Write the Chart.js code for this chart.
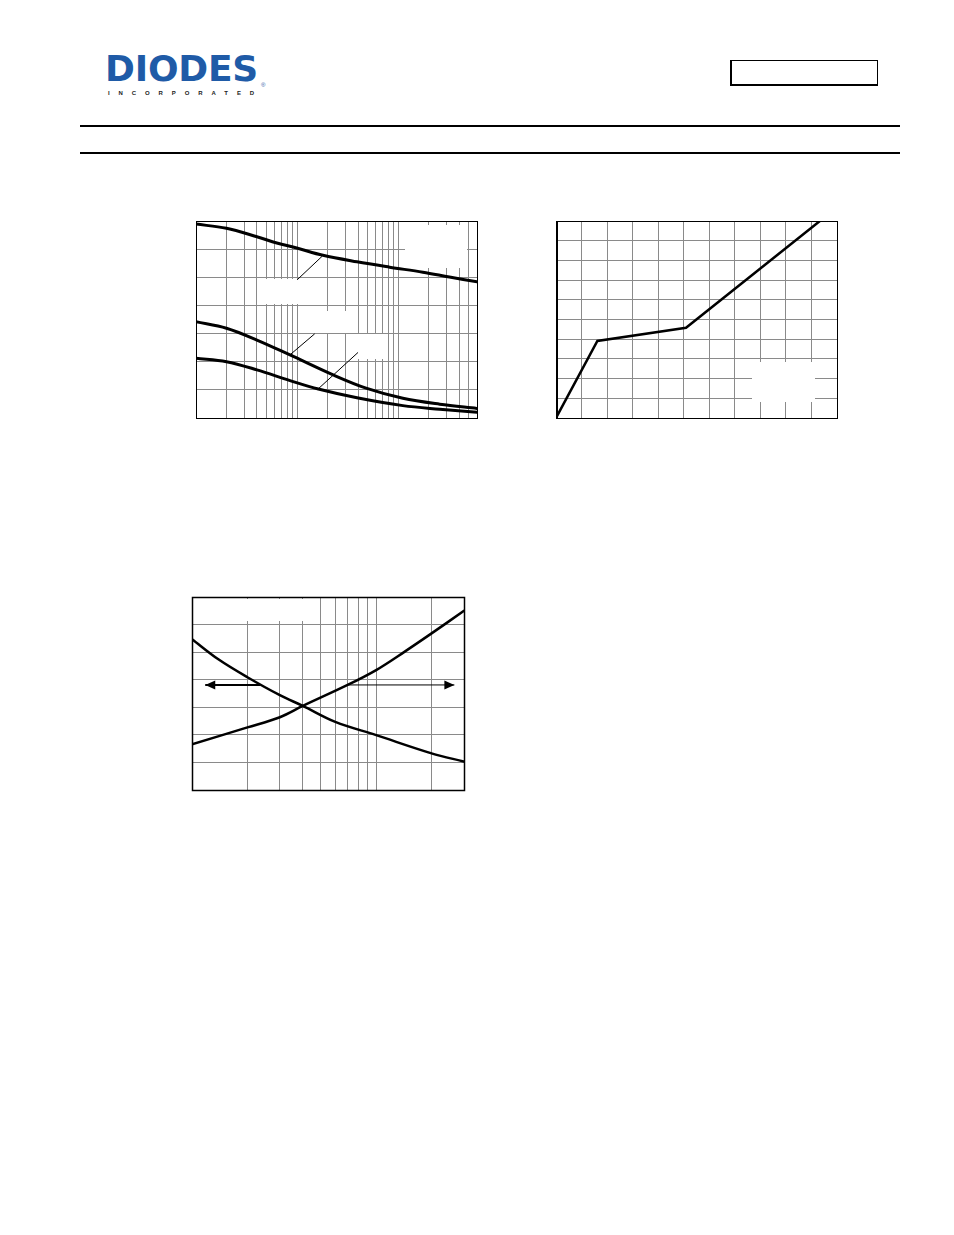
<!DOCTYPE html>
<html><head><meta charset="utf-8">
<script src="https://cdn.jsdelivr.net/npm/chart.js@4/dist/chart.umd.min.js"></script>
<style>
html,body{margin:0;padding:0;background:#fff;}
body{width:954px;height:1235px;overflow:hidden;position:relative;font-family:"Liberation Sans",Arial,sans-serif;}
.abs{position:absolute;}
#logo{left:105px;top:53.5px;font-family:"DejaVu Sans",sans-serif;font-size:36px;line-height:30px;font-weight:bold;color:#1f5ba7;letter-spacing:-0.2px;white-space:nowrap;}
#inc{left:108px;top:90px;font-size:6px;line-height:6px;font-weight:bold;color:#222;letter-spacing:8.9px;white-space:nowrap;}
#reg{left:261px;top:82px;font-size:6px;line-height:6px;color:#1f5ba7;}
#pn{left:730px;top:60px;width:145px;height:23px;border:1px solid #000;border-left-width:2px;border-bottom-width:2px;}
.rule{left:80px;width:820px;height:2px;background:#000;}
canvas{position:absolute;}
</style></head>
<body>
<div id="logo" class="abs">DIODES</div>
<div id="inc" class="abs">INCORPORATED</div>
<div id="reg" class="abs">®</div>
<div id="pn" class="abs"></div>
<div class="abs rule" style="top:125px"></div>
<div class="abs rule" style="top:152px"></div>
<canvas id="c1" width="287" height="203" style="left:193px;top:218px"></canvas>
<canvas id="c2" width="287" height="203" style="left:553px;top:218px"></canvas>
<canvas id="c3" width="278" height="199" style="left:189px;top:594px"></canvas>
<script>
// ---------- Chart 1 (log x, 7 y divisions) ----------
const c1GridX = [1,2,3,4,5,6,7,8,9,10,20,30,40,50,60,70,80,90,100,200,300,400,500,600];
const c1TopX = [1, 2.0, 4.0, 6.3, 9.9, 18, 39, 82, 175, 320, 600];
const c1TopY = [6.89, 6.74, 6.44, 6.22, 6.04, 5.78, 5.55, 5.36, 5.18, 5.01, 4.84];
const c1MidX = [1, 2.0, 4.0, 8.5, 22.7, 48, 111, 257, 600];
const c1MidY = [3.42, 3.19, 2.77, 2.24, 1.53, 1.06, 0.70, 0.49, 0.34];
const c1BotX = [1, 2.0, 4.0, 8.5, 16.2, 39, 111, 257, 600];
const c1BotY = [2.12, 2.00, 1.71, 1.33, 1.03, 0.72, 0.44, 0.31, 0.20];
const c1Lead1X = [10.0, 17.7], c1Lead1Y = [4.91, 5.75];
const c1Lead2X = [8.47, 14.9], c1Lead2Y = [2.24, 2.99];
const c1Lead3X = [16.1, 40.0], c1Lead3Y = [1.03, 2.33];

// ---------- Chart 2 (linear, 11 x 10 grid) ----------
const c2X = [0, 1.62, 5.09, 10.33];
const c2Y = [0, 3.91, 4.58, 10];

// ---------- Chart 3 (log x 1..30, 7 y divisions) ----------
const c3GridX = [1,2,3,4,5,6,7,8,9,10,20,30];
const c3DecX = [1, 1.39, 2, 3, 4, 6, 10, 20, 30];
const c3DecY = [5.47, 4.74, 4.09, 3.44, 3.05, 2.47, 1.99, 1.33, 1.03];
const c3IncX = [1, 2, 3, 4, 7, 10, 14.3, 20, 30];
const c3IncY = [1.66, 2.27, 2.64, 3.05, 3.81, 4.35, 5.02, 5.68, 6.50];
const c3ArrowLX = [2.34, 1.18], c3ArrowLY = [3.81, 3.81];
const c3ArrowRX = [7.0, 26.6], c3ArrowRY = [3.81, 3.81];

const pts = (xs, ys) => xs.map((x, i) => ({x: x, y: ys[i]}));

const deco = {
  id: 'deco',
  beforeDatasetsDraw(chart, args, o) {
    const ctx = chart.ctx;
    ctx.save();
    ctx.fillStyle = '#fff';
    (o.boxes || []).forEach(b => ctx.fillRect(b[0] - o.origin[0], b[1] - o.origin[1], b[2], b[3]));
    ctx.restore();
  },
  afterDatasetsDraw(chart, args, o) {
    const ctx = chart.ctx, a = chart.chartArea;
    ctx.save();
    chart.data.datasets.forEach((ds, i) => {
      if (!ds.arrow) return;
      const m = chart.getDatasetMeta(i).data;
      const p0 = m[m.length - 2], p1 = m[m.length - 1];
      const ang = Math.atan2(p1.y - p0.y, p1.x - p0.x);
      const L = 10, W = 4.5;
      ctx.fillStyle = '#000';
      ctx.beginPath();
      ctx.moveTo(p1.x, p1.y);
      ctx.lineTo(p1.x - L * Math.cos(ang) - W * Math.sin(ang), p1.y - L * Math.sin(ang) + W * Math.cos(ang));
      ctx.lineTo(p1.x - L * Math.cos(ang) + W * Math.sin(ang), p1.y - L * Math.sin(ang) - W * Math.cos(ang));
      ctx.closePath();
      ctx.fill();
    });
    ctx.strokeStyle = '#000';
    ctx.lineWidth = o.frame || 1;
    ctx.strokeRect(a.left + 0.5, a.top + 0.5, a.right - a.left, a.bottom - a.top);
    if (o.leftFrame) {
      ctx.lineWidth = o.leftFrame;
      ctx.beginPath();
      ctx.moveTo(a.left + o.leftFrame / 2, a.top);
      ctx.lineTo(a.left + o.leftFrame / 2, a.bottom + 1);
      ctx.stroke();
    }
    ctx.restore();
  }
};

function logX(min, max, grid) {
  return {
    type: 'logarithmic', min: min, max: max,
    grid: {color: '#8a8a8a', lineWidth: 1, drawTicks: false},
    border: {display: false},
    ticks: {display: false, autoSkip: false},
    afterBuildTicks(s) { s.ticks = grid.map(v => ({value: v})); },
    afterFit(s) { s.height = 0; }
  };
}
function linAxis(min, max, horizontal) {
  return {
    type: 'linear', min: min, max: max,
    grid: {color: '#8a8a8a', lineWidth: 1, drawTicks: false},
    border: {display: false},
    ticks: {display: false, stepSize: 1, autoSkip: false},
    afterFit(s) { if (horizontal) s.height = 0; else s.width = 0; }
  };
}
function curve(data, w) {
  return {data: data, borderColor: '#000', borderWidth: w, pointRadius: 0, fill: false,
          tension: 0.35, borderJoinStyle: 'round', borderCapStyle: 'round'};
}
function straight(data, w, arrow) {
  return {data: data, borderColor: '#000', borderWidth: w, pointRadius: 0, fill: false,
          tension: 0, arrow: !!arrow};
}
const baseOpts = (scales, decoOpts) => ({
  responsive: false, animation: false, devicePixelRatio: 1,
  layout: {padding: 3},
  scales: scales,
  plugins: {legend: {display: false}, tooltip: {enabled: false}, deco: decoOpts}
});

new Chart(document.getElementById('c1'), {
  type: 'line',
  data: {datasets: [
    curve(pts(c1TopX, c1TopY), 3),
    curve(pts(c1MidX, c1MidY), 3),
    curve(pts(c1BotX, c1BotY), 3),
    straight(pts(c1Lead1X, c1Lead1Y), 1),
    straight(pts(c1Lead2X, c1Lead2Y), 1),
    straight(pts(c1Lead3X, c1Lead3Y), 1)
  ]},
  options: baseOpts({x: logX(1, 600, c1GridX), y: linAxis(0, 7, false)},
    {origin: [193, 218], frame: 1,
     boxes: [[405, 225, 62, 43], [262, 279, 64, 25], [314, 311, 32, 22], [347, 334, 37, 25]]}),
  plugins: [deco]
});

new Chart(document.getElementById('c2'), {
  type: 'line',
  data: {datasets: [straight(pts(c2X, c2Y), 2.5)]},
  options: baseOpts({x: linAxis(0, 11, true), y: linAxis(0, 10, false)},
    {origin: [553, 218], frame: 1, leftFrame: 2, boxes: [[752, 362, 63, 40]]}),
  plugins: [deco]
});

new Chart(document.getElementById('c3'), {
  type: 'line',
  data: {datasets: [
    curve(pts(c3DecX, c3DecY), 2.5),
    curve(pts(c3IncX, c3IncY), 2.5),
    straight(pts(c3ArrowLX, c3ArrowLY), 2, true),
    straight(pts(c3ArrowRX, c3ArrowRY), 1, true)
  ]},
  options: baseOpts({x: logX(1, 30, c3GridX), y: linAxis(0, 7, false)},
    {origin: [189, 594], frame: 1.5, boxes: [[205, 599, 113, 22]]}),
  plugins: [deco]
});
</script>
</body></html>
